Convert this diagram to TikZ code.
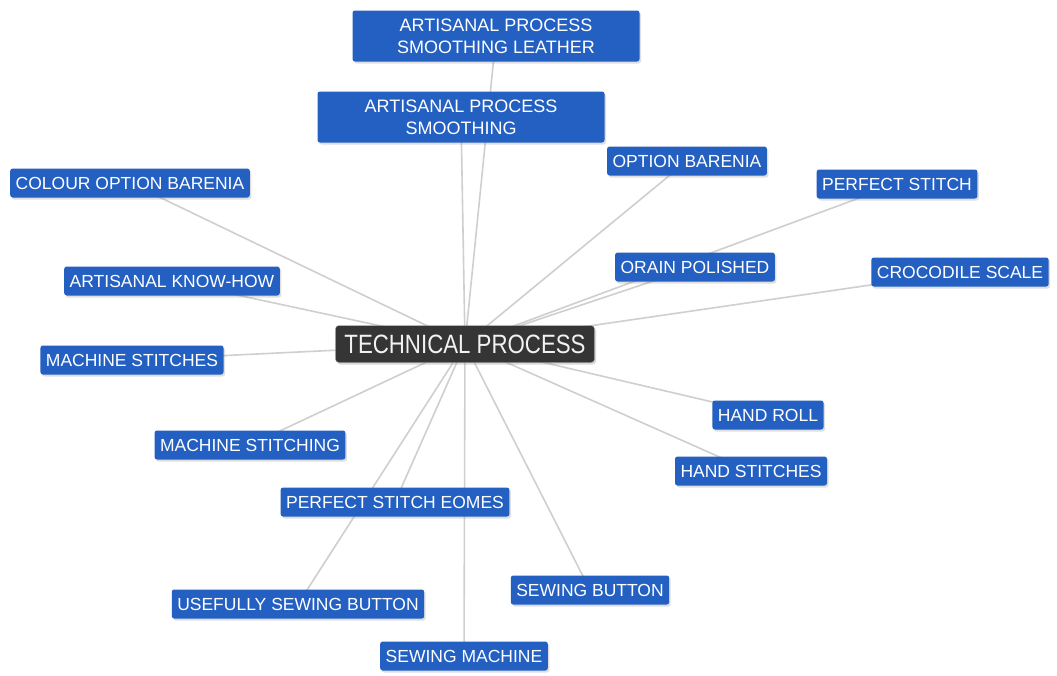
\documentclass[tikz,border=0pt]{standalone}
\usepackage{fontspec}
\setmainfont{Liberation Sans}
\newfontfamily\hubfont{Liberation Sans}[FakeStretch=0.84]
\usetikzlibrary{backgrounds,shadows}

\definecolor{topicblue}{HTML}{2360C2}
\definecolor{hubgray}{HTML}{353535}
\definecolor{linkgray}{HTML}{CFCFCF}

\tikzset{
    topic/.style={rectangle, rounded corners=2.5pt, fill=topicblue, text=white,
        font=\fontsize{17.5}{21}\selectfont, inner xsep=5.5pt, inner ysep=0pt,
        minimum height=29pt,
        drop shadow={opacity=0.25, shadow xshift=1.5pt, shadow yshift=-2pt}},
    wide/.style={topic, align=center, minimum width=287pt, minimum height=51pt,
        font=\fontsize{18}{22}\selectfont},
    hub/.style={rectangle, rounded corners=3.5pt, fill=hubgray, draw=gray!60,
        text=gray!10, font=\hubfont\fontsize{26.5}{30}\selectfont,
        inner xsep=9pt, inner ysep=0pt, minimum height=37pt,
        drop shadow={opacity=0.3, shadow xshift=1.5pt, shadow yshift=-2pt}},
    link/.style={draw=linkgray, line width=1.6pt},
}

\begin{document}
\begin{tikzpicture}[x=1pt, y=-1pt]
    \useasboundingbox (0,0) rectangle (1057,675);

    % centre
    \node[hub] (hub) at (465,344) {TECHNICAL PROCESS};

    % upper half
    \node[wide] (leather) at (496,36) {ARTISANAL PROCESS\\SMOOTHING LEATHER};
    \node[wide] (smoothing) at (461,117) {ARTISANAL PROCESS\\SMOOTHING};
    \node[topic] (barenia) at (687,161) {OPTION BARENIA};
    \node[topic] (stitch) at (897,184) {PERFECT STITCH};
    \node[topic] (colour) at (130,183) {COLOUR OPTION BARENIA};
    \node[topic] (knowhow) at (172,281) {ARTISANAL KNOW-HOW};
    \node[topic] (polished) at (695,267) {ORAIN POLISHED};
    \node[topic] (croco) at (960,272) {CROCODILE SCALE};
    \node[topic] (mstitches) at (132,360) {MACHINE STITCHES};

    % lower half
    \node[topic] (handroll) at (768,415) {HAND ROLL};
    \node[topic] (mstitching) at (250,445) {MACHINE STITCHING};
    \node[topic] (hstitches) at (751,471) {HAND STITCHES};
    \node[topic] (eomes) at (395,502) {PERFECT STITCH EOMES};
    \node[topic] (button) at (590,590) {SEWING BUTTON};
    \node[topic] (useful) at (298,604) {USEFULLY SEWING BUTTON};
    \node[topic] (machine) at (464,656) {SEWING MACHINE};

    % spokes behind the boxes
    \begin{pgfonlayer}{background}
        \fill[white] (0,0) rectangle (1057,675);
        \foreach \n in {leather, smoothing, barenia, stitch, colour, knowhow,
                        polished, croco, mstitches, handroll, mstitching,
                        hstitches, eomes, button, useful, machine}
            \draw[link] (hub.center) -- (\n.center);
    \end{pgfonlayer}
\end{tikzpicture}
\end{document}
